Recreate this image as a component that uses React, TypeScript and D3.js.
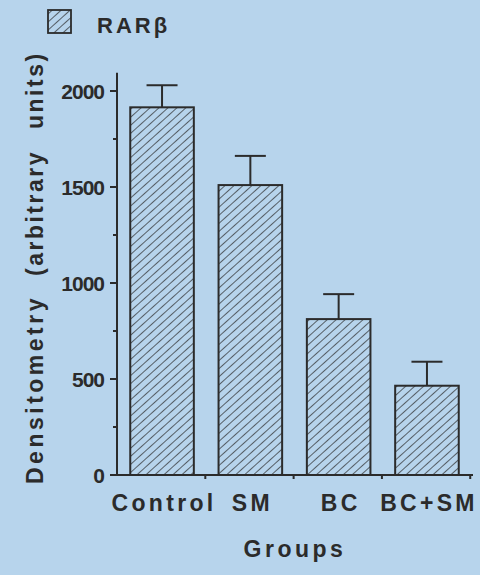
import React from "react";
import * as d3 from "d3";

const groups = ["Control", "SM", "BC", "BC+SM"];
const values = [1915, 1510, 812, 465];
const errors = [115, 152, 130, 125];
const yTicks = [0, 500, 1000, 1500, 2000];
const yMinorTicks = [250, 750, 1250, 1750];

const W = 480;
const H = 575;
const ink = "#2b2b2b";
const bg = "#b7d4ec";
const font = "'Liberation Sans', Arial, sans-serif";

const App = () => {
    const x = d3
        .scaleBand()
        .domain(groups)
        .range([117, 472])
        .paddingInner(0.28)
        .paddingOuter(0.15);
    const y = d3.scaleLinear().domain([0, 2000]).range([475, 91]);
    const step = x.step();
    const x0 = x.range()[0];
    const boundaries = groups.map((g, i) => x0 + step * (i + 1));

    return (
        <svg
            width={W}
            height={H}
            style={{ position: "absolute", left: 0, top: 0, background: bg }}
        >
            <defs>
                <pattern
                    id="hatch"
                    patternUnits="userSpaceOnUse"
                    width={6}
                    height={6}
                    patternTransform="rotate(48)"
                >
                    <line x1={0} y1={0} x2={0} y2={6} stroke={ink} strokeWidth={1.4} />
                </pattern>
            </defs>

            {/* legend */}
            <rect x={48} y={10} width={23} height={23} fill="url(#hatch)" stroke={ink} strokeWidth={1.8} />
            <text x={97} y={33} fontFamily={font} fontWeight="bold" fontSize={22} letterSpacing={3} fill={ink}>
                RARβ
            </text>

            {/* bars */}
            {groups.map((g, i) => {
                const bx = x(g) as number;
                const cx = bx + x.bandwidth() / 2;
                return (
                    <g key={g}>
                        <line x1={cx} x2={cx} y1={y(values[i])} y2={y(values[i] + errors[i])} stroke={ink} strokeWidth={2} />
                        <line x1={cx - 15.5} x2={cx + 15.5} y1={y(values[i] + errors[i])} y2={y(values[i] + errors[i])} stroke={ink} strokeWidth={2} />
                        <rect
                            x={bx}
                            y={y(values[i])}
                            width={x.bandwidth()}
                            height={y(0) - y(values[i])}
                            fill="url(#hatch)"
                            stroke={ink}
                            strokeWidth={2}
                        />
                        <text
                            x={cx + 2}
                            y={511}
                            textAnchor="middle"
                            fontFamily={font}
                            fontWeight="bold"
                            fontSize={23}
                            letterSpacing={3.3}
                            fill={ink}
                        >
                            {g}
                        </text>
                    </g>
                );
            })}

            {/* y axis */}
            <line x1={117} x2={117} y1={y(0)} y2={y(2095)} stroke={ink} strokeWidth={2} />
            {yTicks.map((t) => (
                <g key={t}>
                    <line x1={110} x2={117} y1={y(t)} y2={y(t)} stroke={ink} strokeWidth={2} />
                    <text
                        x={104}
                        y={y(t)}
                        dy="0.36em"
                        textAnchor="end"
                        fontFamily={font}
                        fontWeight="bold"
                        fontSize={21}
                        letterSpacing={-1}
                        fill={ink}
                    >
                        {t}
                    </text>
                </g>
            ))}
            {yMinorTicks.map((t) => (
                <line key={t} x1={113} x2={117} y1={y(t)} y2={y(t)} stroke={ink} strokeWidth={2} />
            ))}

            {/* x axis */}
            <line x1={116} x2={473} y1={y(0)} y2={y(0)} stroke={ink} strokeWidth={2} />
            {boundaries.map((b, i) => (
                <line key={i} x1={b} x2={b} y1={y(0)} y2={y(0) + 4} stroke={ink} strokeWidth={2} />
            ))}

            {/* axis titles */}
            <text x={295} y={557} textAnchor="middle" fontFamily={font} fontWeight="bold" fontSize={23} letterSpacing={3.5} fill={ink}>
                Groups
            </text>
            <g transform="translate(43,0) rotate(-90)" fontFamily={font} fontWeight="bold" fontSize={23} fill={ink}>
                <text x={-484} letterSpacing={3.5}>Densitometry</text>
                <text x={-276} letterSpacing={2.5}>(arbitrary</text>
                <text x={-129} letterSpacing={2.5}>units)</text>
            </g>
        </svg>
    );
};

export default App;
